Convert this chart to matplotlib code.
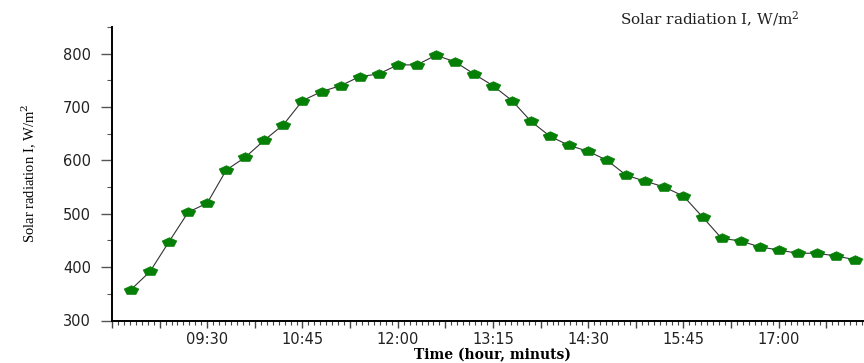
import numpy as np
import matplotlib.pyplot as plt
from matplotlib.ticker import FixedLocator, FixedFormatter

plt.rcParams['mathtext.fontset'] = 'dejavuserif'

# readings every 15 minutes
times = ['08:30', '08:45', '09:00', '09:15', '09:30', '09:45', '10:00', '10:15',
         '10:30', '10:45', '11:00', '11:15', '11:30', '11:45', '12:00', '12:15',
         '12:30', '12:45', '13:00', '13:15', '13:30', '13:45', '14:00', '14:15',
         '14:30', '14:45', '15:00', '15:15', '15:30', '15:45', '16:00', '16:15',
         '16:30', '16:45', '17:00', '17:15', '17:30', '17:45', '18:00']
radiation = [358, 392, 448, 503, 520, 582, 606, 638, 667, 712, 729, 740, 757,
             762, 779, 779, 797, 785, 762, 740, 712, 673, 645, 628, 617, 600,
             572, 561, 550, 533, 494, 454, 449, 438, 432, 426, 426, 421, 414]
tick_labels = ['09:30', '10:45', '12:00', '13:15', '14:30', '15:45', '17:00']


def to_min(s):
    h, m = s.split(':')
    return int(h) * 60 + int(m)


x = [to_min(t) for t in times]

# wide pentagon marker
ang = np.deg2rad(90 + 72 * np.arange(6))
pent = list(zip(1.6 * np.cos(ang), np.sin(ang)))

fig = plt.figure(figsize=(8.64, 3.63), dpi=100)
ax = fig.add_axes([112 / 864, 1 - 320.5 / 363, 762 / 864, 293.5 / 363])

ax.plot(x, radiation, color='#333333', lw=0.8, marker=pent, ms=10.5,
        mfc='#067f06', mec='#067f06', mew=0.5)

x0, x1 = to_min('08:15'), to_min('18:15')
ax.set_xlim(x0, x1)
ax.set_ylim(300, 850)

major = np.arange(x0, x1 + 1, 37.5)
labels = []
for v in major:
    hm = '%02d:%02d' % (int(v) // 60, int(v) % 60)
    labels.append(hm if hm in tick_labels else '')
ax.xaxis.set_major_locator(FixedLocator(major))
ax.xaxis.set_major_formatter(FixedFormatter(labels))
ax.xaxis.set_minor_locator(FixedLocator(np.arange(x0, x1 + 1, 37.5 / 8)))

ax.yaxis.set_major_locator(FixedLocator(np.arange(300, 801, 100)))
ax.yaxis.set_minor_locator(FixedLocator(np.arange(350, 851, 100)))

for s in ['top', 'right']:
    ax.spines[s].set_visible(False)
for s in ['left', 'bottom']:
    ax.spines[s].set_linewidth(1.4)

ax.tick_params(axis='x', which='major', length=5, width=1, color='#444444',
               pad=3, labelsize=10.5, labelcolor='#222222')
ax.tick_params(axis='x', which='minor', length=2.8, width=0.8, color='#444444')
ax.tick_params(axis='y', which='major', length=8, width=1, color='#555555',
               pad=7, labelsize=10.5, labelcolor='#222222')
ax.tick_params(axis='y', which='minor', length=3.5, width=0.8, color='#555555')

ax.set_xlabel('Time (hour, minuts)', family='DejaVu Serif', fontweight='bold',
              fontsize=10, labelpad=1)
ax.set_ylabel('Solar radiation I, W/m$^2$', family='Liberation Serif', fontsize=10.5)
ax.yaxis.set_label_coords(-0.097, 0.5)

fig.text(710 / 864, 1 - 19 / 363, 'Solar radiation I, W/m$^2$', family='DejaVu Serif',
         fontsize=11, ha='center', va='center', color='#222222')

fig.savefig('out.png', dpi=100)
